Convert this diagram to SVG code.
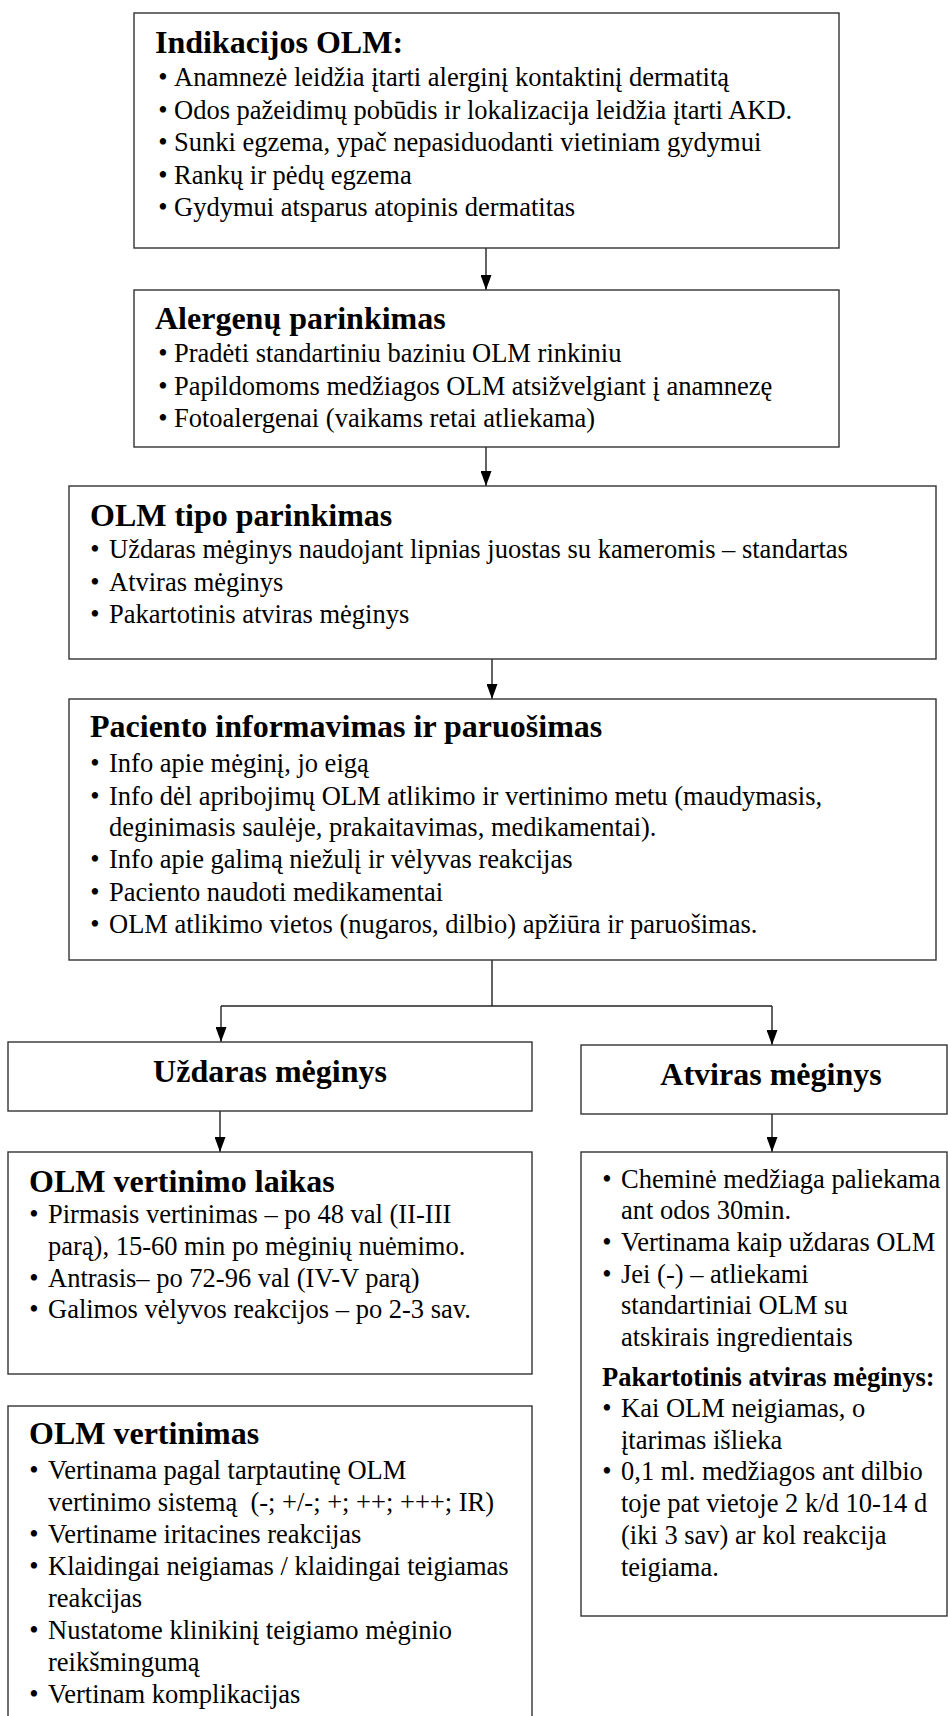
<svg xmlns="http://www.w3.org/2000/svg" width="948" height="1716" viewBox="0 0 948 1716">
<defs>
<marker id="ah" markerWidth="15" markerHeight="11" refX="15" refY="5.5" orient="auto" markerUnits="userSpaceOnUse">
<path d="M0,0 L15,5.5 L0,11 z" fill="#000"/>
</marker>
<style>
.box{fill:#fff;stroke:#333;stroke-width:1.4}
.h{font-family:"Liberation Serif","Times New Roman",serif;font-weight:bold;font-size:32px;fill:#000}
.hs{font-family:"Liberation Serif","Times New Roman",serif;font-weight:bold;font-size:26.5px;fill:#000}
.t{font-family:"Liberation Serif","Times New Roman",serif;font-size:26.5px;fill:#000}
.bl{font-family:"Liberation Serif","Times New Roman",serif;font-size:26.5px;fill:#000;text-anchor:middle}
.ctr{text-anchor:middle}
.c{fill:none;stroke:#222;stroke-width:1.4}
</style>
</defs>
<rect width="948" height="1716" fill="#fff"/>

<g id="connectors">
<line class="c" x1="486" y1="248" x2="486" y2="290" marker-end="url(#ah)"/>
<line class="c" x1="486" y1="447" x2="486" y2="486" marker-end="url(#ah)"/>
<line class="c" x1="492" y1="659" x2="492" y2="699" marker-end="url(#ah)"/>
<line class="c" x1="492" y1="960" x2="492" y2="1006"/>
<line class="c" x1="221" y1="1006" x2="772" y2="1006"/>
<line class="c" x1="221" y1="1006" x2="221" y2="1042" marker-end="url(#ah)"/>
<line class="c" x1="772" y1="1006" x2="772" y2="1045" marker-end="url(#ah)"/>
<line class="c" x1="220" y1="1111" x2="220" y2="1152" marker-end="url(#ah)"/>
<line class="c" x1="772" y1="1114" x2="772" y2="1152" marker-end="url(#ah)"/>
</g>

<g id="n-indikacijos">
<rect class="box" x="134" y="13" width="705" height="235"/>
<text class="h" x="155" y="53">Indikacijos OLM:</text>
<text class="bl" x="163" y="86">•</text><text class="t" x="174" y="86">Anamnezė leidžia įtarti alerginį kontaktinį dermatitą</text>
<text class="bl" x="163" y="118.5">•</text><text class="t" x="174" y="118.5">Odos pažeidimų pobūdis ir lokalizacija leidžia įtarti AKD.</text>
<text class="bl" x="163" y="151">•</text><text class="t" x="174" y="151">Sunki egzema, ypač nepasiduodanti vietiniam gydymui</text>
<text class="bl" x="163" y="183.5">•</text><text class="t" x="174" y="183.5">Rankų ir pėdų egzema</text>
<text class="bl" x="163" y="216">•</text><text class="t" x="174" y="216">Gydymui atsparus atopinis dermatitas</text>
</g>

<g id="n-alergenai">
<rect class="box" x="134" y="290" width="705" height="157"/>
<text class="h" x="155" y="329">Alergenų parinkimas</text>
<text class="bl" x="163" y="362">•</text><text class="t" x="174" y="362">Pradėti standartiniu baziniu OLM rinkiniu</text>
<text class="bl" x="163" y="394.5">•</text><text class="t" x="174" y="394.5">Papildomoms medžiagos OLM atsižvelgiant į anamnezę</text>
<text class="bl" x="163" y="427">•</text><text class="t" x="174" y="427">Fotoalergenai (vaikams retai atliekama)</text>
</g>

<g id="n-tipas">
<rect class="box" x="69" y="486" width="867" height="173"/>
<text class="h" x="90" y="526">OLM tipo parinkimas</text>
<text class="bl" x="95" y="558">•</text><text class="t" x="109" y="558">Uždaras mėginys naudojant lipnias juostas su kameromis – standartas</text>
<text class="bl" x="95" y="591">•</text><text class="t" x="109" y="591">Atviras mėginys</text>
<text class="bl" x="95" y="623">•</text><text class="t" x="109" y="623">Pakartotinis atviras mėginys</text>
</g>

<g id="n-pacientas">
<rect class="box" x="69" y="699" width="867" height="261"/>
<text class="h" x="90" y="737">Paciento informavimas ir paruošimas</text>
<text class="bl" x="95" y="772">•</text><text class="t" x="109" y="772">Info apie mėginį, jo eigą</text>
<text class="bl" x="95" y="805">•</text><text class="t" x="109" y="805">Info dėl apribojimų OLM atlikimo ir vertinimo metu (maudymasis,</text>
<text class="t" x="109" y="836">deginimasis saulėje, prakaitavimas, medikamentai).</text>
<text class="bl" x="95" y="868">•</text><text class="t" x="109" y="868">Info apie galimą niežulį ir vėlyvas reakcijas</text>
<text class="bl" x="95" y="901">•</text><text class="t" x="109" y="901">Paciento naudoti medikamentai</text>
<text class="bl" x="95" y="933">•</text><text class="t" x="109" y="933">OLM atlikimo vietos (nugaros, dilbio) apžiūra ir paruošimas.</text>
</g>

<g id="n-uzdaras">
<rect class="box" x="8" y="1042" width="524" height="69"/>
<text class="h ctr" x="270" y="1082">Uždaras mėginys</text>
</g>

<g id="n-atviras">
<rect class="box" x="581" y="1045" width="366" height="69"/>
<text class="h ctr" x="771" y="1085">Atviras mėginys</text>
</g>

<g id="n-laikas">
<rect class="box" x="8" y="1152" width="524" height="222"/>
<text class="h" x="29" y="1192">OLM vertinimo laikas</text>
<text class="bl" x="34" y="1223">•</text><text class="t" x="48" y="1223">Pirmasis vertinimas – po 48 val (II-III</text>
<text class="t" x="48" y="1255">parą), 15-60 min po mėginių nuėmimo.</text>
<text class="bl" x="34" y="1287">•</text><text class="t" x="48" y="1287">Antrasis– po 72-96 val (IV-V parą)</text>
<text class="bl" x="34" y="1318">•</text><text class="t" x="48" y="1318">Galimos vėlyvos reakcijos – po 2-3 sav.</text>
</g>

<g id="n-vertinimas">
<rect class="box" x="8" y="1406" width="524" height="340"/>
<text class="h" x="29" y="1444">OLM vertinimas</text>
<text class="bl" x="34" y="1479">•</text><text class="t" x="48" y="1479">Vertinama pagal tarptautinę OLM</text>
<text class="t" x="48" y="1511">vertinimo sistemą &#160;(-; +/-; +; ++; +++; IR)</text>
<text class="bl" x="34" y="1543">•</text><text class="t" x="48" y="1543">Vertiname iritacines reakcijas</text>
<text class="bl" x="34" y="1575">•</text><text class="t" x="48" y="1575">Klaidingai neigiamas / klaidingai teigiamas</text>
<text class="t" x="48" y="1607">reakcijas</text>
<text class="bl" x="34" y="1639">•</text><text class="t" x="48" y="1639">Nustatome klinikinį teigiamo mėginio</text>
<text class="t" x="48" y="1671">reikšmingumą</text>
<text class="bl" x="34" y="1703">•</text><text class="t" x="48" y="1703">Vertinam komplikacijas</text>
</g>

<g id="n-atviras-info">
<rect class="box" x="581" y="1152" width="366" height="464"/>
<text class="bl" x="607" y="1188">•</text><text class="t" x="621" y="1188">Cheminė medžiaga paliekama</text>
<text class="t" x="621" y="1219">ant odos 30min.</text>
<text class="bl" x="607" y="1251">•</text><text class="t" x="621" y="1251">Vertinama kaip uždaras OLM</text>
<text class="bl" x="607" y="1283">•</text><text class="t" x="621" y="1283">Jei (-) – atliekami</text>
<text class="t" x="621" y="1314">standartiniai OLM su</text>
<text class="t" x="621" y="1346">atskirais ingredientais</text>
<text class="hs" x="602" y="1386">Pakartotinis atviras mėginys:</text>
<text class="bl" x="607" y="1417">•</text><text class="t" x="621" y="1417">Kai OLM neigiamas, o</text>
<text class="t" x="621" y="1449">įtarimas išlieka</text>
<text class="bl" x="607" y="1480">•</text><text class="t" x="621" y="1480">0,1 ml. medžiagos ant dilbio</text>
<text class="t" x="621" y="1512">toje pat vietoje 2 k/d 10-14 d</text>
<text class="t" x="621" y="1544">(iki 3 sav) ar kol reakcija</text>
<text class="t" x="621" y="1576">teigiama.</text>
</g>
</svg>
